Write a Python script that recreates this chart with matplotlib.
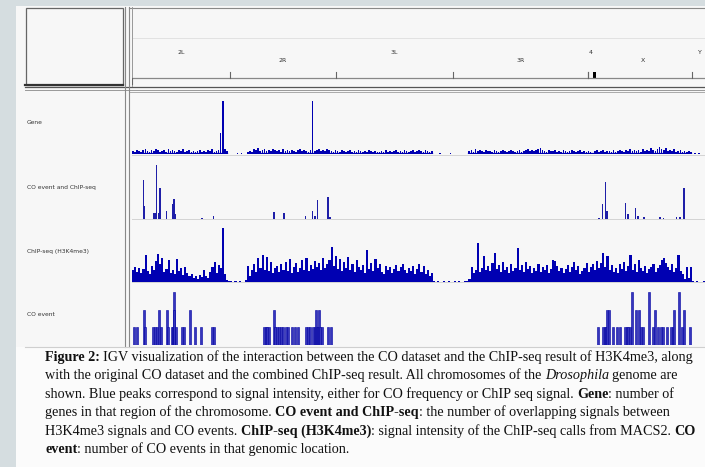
import matplotlib
matplotlib.use("Agg")
import matplotlib.pyplot as plt
from matplotlib.patches import Rectangle

W, H = 705, 467

# Drosophila chromosomes, concatenated as in the IGV "All" view (Mb)
chrom_names = ["2L", "2R", "3L", "3R", "4", "X", "Y"]
chrom_sizes = [23.5, 25.3, 28.1, 32.1, 1.4, 23.5, 3.7]

# genome-wide 0.5 Mb bins
bin_mb = 0.5
gene_counts = [
    3, 2, 4, 3, 2, 4, 5, 3, 2, 4,
    3, 5, 4, 2, 3, 4, 2, 5, 3, 4,
    3, 2, 4, 3, 5, 2, 3, 4, 2, 3,
    2, 3, 4, 2, 3, 2, 4, 3, 5, 2,
    3, 4, 21, 53, 5, 3, 0, 0, 0, 0,
    1, 0, 1, 0, 0, 2, 3, 2, 5, 4,
    6, 3, 4, 5, 3, 4, 3, 5, 4, 3,
    4, 2, 5, 3, 4, 3, 4, 3, 2, 4,
    5, 3, 4, 3, 2, 4, 53, 3, 4, 5,
    3, 4, 3, 5, 4, 3, 2, 4, 3, 2,
    4, 3, 2, 3, 4, 2, 3, 2, 4, 3,
    2, 3, 2, 4, 3, 2, 3, 2, 2, 3,
    2, 4, 2, 3, 2, 3, 4, 2, 3, 2,
    4, 3, 2, 3, 4, 2, 3, 4, 3, 2,
    4, 3, 2, 3, 0, 0, 0, 1, 0, 0,
    0, 0, 1, 0, 0, 0, 0, 0, 0, 0,
    0, 3, 4, 2, 5, 3, 4, 3, 2, 4,
    3, 3, 2, 4, 3, 2, 3, 4, 3, 2,
    3, 4, 3, 2, 3, 4, 2, 3, 4, 5,
    3, 4, 3, 4, 5, 6, 4, 3, 2, 4,
    3, 3, 4, 2, 3, 2, 4, 3, 2, 3,
    4, 3, 2, 3, 4, 2, 3, 2, 3, 2,
    1, 3, 4, 2, 3, 4, 2, 3, 3, 2,
    4, 2, 3, 4, 3, 2, 4, 3, 5, 3,
    4, 3, 4, 2, 5, 3, 4, 3, 6, 4,
    3, 5, 7, 5, 4, 6, 3, 4, 3, 5,
    2, 3, 4, 2, 3, 2, 3, 2, 0, 1,
    0, 1, 0, 0, 0,
]
chip_signal = [
    12, 15, 10, 14, 9, 13, 27, 11, 8, 16,
    12, 21, 28, 18, 24, 10, 13, 22, 9, 12,
    8, 23, 11, 14, 7, 15, 9, 6, 8, 4,
    6, 3, 7, 5, 12, 6, 4, 10, 15, 20,
    9, 17, 14, 54, 8, 2, 1, 1, 0, 1,
    0, 1, 0, 0, 2, 16, 6, 12, 18, 10,
    24, 14, 27, 12, 25, 11, 20, 9, 14, 16,
    10, 18, 12, 20, 11, 23, 9, 15, 19, 10,
    14, 22, 12, 24, 11, 17, 13, 21, 15, 19,
    12, 24, 14, 18, 22, 35, 16, 26, 13, 23,
    11, 20, 14, 25, 12, 18, 10, 22, 15, 12,
    17, 9, 32, 13, 19, 11, 23, 14, 18, 10,
    8, 16, 12, 15, 9, 13, 17, 11, 15, 18,
    12, 9, 14, 11, 16, 8, 13, 18, 10, 16,
    8, 12, 6, 9, 1, 0, 1, 0, 0, 1,
    0, 1, 0, 0, 1, 0, 1, 0, 0, 1,
    1, 3, 15, 9, 12, 39, 10, 14, 26, 12,
    16, 11, 19, 29, 13, 17, 10, 20, 12, 15,
    9, 18, 11, 14, 34, 12, 17, 10, 20, 13,
    16, 9, 14, 11, 18, 10, 15, 12, 17, 9,
    13, 22, 21, 16, 11, 14, 9, 13, 17, 10,
    15, 20, 12, 16, 8, 11, 14, 19, 10, 15,
    18, 12, 21, 14, 19, 29, 15, 26, 12, 17,
    10, 14, 9, 18, 13, 20, 11, 16, 27, 12,
    18, 10, 22, 14, 11, 16, 9, 13, 15, 18,
    10, 14, 17, 22, 24, 19, 15, 12, 18, 10,
    14, 27, 11, 8, 3, 15, 4, 15, 1, 0,
    1, 0, 0, 1, 0,
]

# CO event and ChIP-seq overlap (genome position Mb, signal)
overlap_pos = [2.8, 3.0, 5.1, 5.5, 5.9, 6.3, 6.7, 8.3, 9.7, 10.05, 10.3,
               16.7, 19.45, 34.0, 36.4, 41.5, 43.2, 43.8, 44.4, 46.95, 47.4,
               111.7, 112.6, 113.3, 113.6, 118.1, 118.7, 120.4, 121.1, 122.5,
               126.3, 127.1, 130.3, 131.1, 132.0]
overlap_val = [39, 13, 6, 6, 54, 6, 31, 8, 15, 20, 5,
               1, 3, 7, 6, 3, 8, 3, 19, 22, 2,
               1, 15, 37, 8, 16, 5, 11, 3, 2,
               2, 1, 2, 2, 31]

# CO events (genome position Mb, count)
co_pos = [0.55, 1.12, 2.87, 3.11, 5.1, 5.5, 5.9, 6.53, 6.87, 8.3, 8.68,
          9.5, 9.74, 9.98, 10.12, 10.45, 12.03, 12.51, 13.87, 15.07, 16.5,
          19.14, 19.6, 31.65, 31.98, 32.36, 32.77, 33.97, 34.2, 34.6, 35.16,
          35.64, 36.19, 36.77, 37.39, 38.2, 39.0, 39.78, 41.55, 42.17, 42.65,
          43.37, 43.77, 43.94, 44.18, 44.57, 44.8, 44.97, 45.38, 46.96, 47.6,
          111.54, 112.74, 113.07, 113.38, 113.69, 114.03, 115.13, 115.94,
          116.73, 117.93, 118.33, 118.72, 119.12, 119.67, 120.49, 121.2,
          121.68, 122.31, 123.74, 124.7, 125.1, 125.9, 126.47, 127.09, 127.9,
          128.86, 129.34, 129.65, 130.77, 131.5, 132.04, 133.47]
co_count = [1, 1, 2, 1, 1, 1, 1, 2, 1, 2, 1,
            1, 1, 3, 2, 1, 1, 1, 2, 1, 1,
            1, 1, 1, 1, 1, 1, 2, 1, 1, 1,
            1, 1, 1, 1, 1, 1, 1, 1, 1, 1,
            1, 1, 2, 1, 1, 2, 1, 1, 1, 1,
            1, 1, 1, 1, 2, 2, 1, 1,
            1, 1, 1, 1, 1, 3, 2, 2,
            1, 1, 3, 1, 2, 1, 1, 1, 1,
            1, 1, 2, 3, 1, 2, 1]

track_names = ["Gene", "CO event and ChIP-seq", "ChIP-seq (H3K4me3)", "CO event"]

caption = [
    [("Figure 2:", "bold", "normal"),
     (" IGV visualization of the interaction between the CO dataset and the ChIP-seq result of H3K4me3, along", "normal", "normal")],
    [("with the original CO dataset and the combined ChIP-seq result. All chromosomes of the ", "normal", "normal"),
     ("Drosophila", "normal", "italic"), (" genome are", "normal", "normal")],
    [("shown. Blue peaks correspond to signal intensity, either for CO frequency or ChIP seq signal. ", "normal", "normal"),
     ("Gene", "bold", "normal"), (": number of", "normal", "normal")],
    [("genes in that region of the chromosome. ", "normal", "normal"),
     ("CO event and ChIP-seq", "bold", "normal"),
     (": the number of overlapping signals between", "normal", "normal")],
    [("H3K4me3 signals and CO events. ", "normal", "normal"),
     ("ChIP-seq (H3K4me3)", "bold", "normal"),
     (": signal intensity of the ChIP-seq calls from MACS2. ", "normal", "normal"),
     ("CO", "bold", "normal")],
    [("event", "bold", "normal"), (": number of CO events in that genomic location.", "normal", "normal")],
]

BLUE = "#0000b2"
X0_PX, X1_PX = 132, 705
PX_PER_MB = 4.18
xmax = (X1_PX - X0_PX) / PX_PER_MB

fig = plt.figure(figsize=(W / 100, H / 100), dpi=100)
fig.patch.set_facecolor("#fbfbfb")


def px_axes(x0, y0, x1, y1, z=2):
    ax = fig.add_axes([x0 / W, 1 - y1 / H, (x1 - x0) / W, (y1 - y0) / H], zorder=z)
    ax.patch.set_alpha(0)
    ax.set_axis_off()
    return ax


# overlay in pixel coordinates for the IGV frame
ov = px_axes(0, 0, W, H, z=1)
ov.set_xlim(0, W)
ov.set_ylim(H, 0)
ov.add_patch(Rectangle((0, 0), 16, H, color="#d5dde0", lw=0))
ov.add_patch(Rectangle((0, 0), W, 6, color="#d5dde0", lw=0))
ov.add_patch(Rectangle((16, 6), W - 16, 341, color="#f7f7f7", lw=0))
ov.add_patch(Rectangle((25.5, 7.5), 97, 77, fill=False, ec="#666666", lw=0.9))
ov.plot([25, 123], [84.5, 84.5], color="#333333", lw=1.6)
ov.plot([25, W], [86.5, 86.5], color="#555555", lw=0.9)
ov.plot([25, W], [89.5, 89.5], color="#999999", lw=0.7)
ov.plot([129, W], [91.5, 91.5], color="#aaaaaa", lw=0.7)
ov.plot([129, W], [7.5, 7.5], color="#888888", lw=0.8)
ov.plot([132, W], [37.5, 37.5], color="#e2e2e2", lw=0.7)
for xv in [124.5, 128.5]:
    ov.plot([xv, xv], [7, 347], color="#888888", lw=0.8)
ov.plot([131.5, 131.5], [7, 86], color="#999999", lw=0.7)
for yv in [154.5, 219.0, 282.0]:
    ov.plot([132, W], [yv, yv], color="#d3d3d3", lw=0.7)
ov.plot([25, W], [346.5, 346.5], color="#cfcfcf", lw=0.8)

for name, yc in zip(track_names, [123, 187, 251, 314]):
    ov.text(27, yc, name, fontsize=4.3, color="#333333", va="center", ha="left",
            family="DejaVu Sans")

# header ruler in genome coordinates
hdr = px_axes(X0_PX, 7, X1_PX, 86)
hdr.set_xlim(0, xmax)
hdr.set_ylim(86, 7)
starts = []
pos = 0.0
for s in chrom_sizes:
    starts.append(pos)
    pos += s
hdr.plot([0, xmax], [78, 78], color="#888888", lw=0.9)
hdr.plot([0.05, 0.05], [78, 84], color="#666666", lw=0.8)
for i, (name, st, s) in enumerate(zip(chrom_names, starts, chrom_sizes)):
    yl = 53 if i % 2 == 0 else 60
    hdr.text(st + s / 2, yl, name, fontsize=4.5, color="#333333", ha="center",
             va="center", family="DejaVu Sans")
    end = st + s
    if name == "4":
        hdr.add_patch(Rectangle((end - 0.1, 71.5), 0.75, 6.5, color="black", lw=0))
    elif end < xmax:
        hdr.plot([end, end], [72, 78], color="#666666", lw=0.8)
hdr.plot([starts[4], starts[4]], [72, 78], color="#666666", lw=0.8)

bins = [i * bin_mb for i in range(len(gene_counts))]

ax_gene = px_axes(X0_PX, 92, X1_PX, 153.5)
ax_gene.set_xlim(0, xmax)
ax_gene.set_ylim(0, 61.5)
ax_gene.bar(bins, gene_counts, width=bin_mb * 0.8, align="edge", color=BLUE, lw=0)
ax_gene.plot([0, 22.8], [0.4, 0.4], color=BLUE, lw=0.9)
ax_gene.plot([27.7, 71.8], [0.4, 0.4], color=BLUE, lw=0.9)
ax_gene.plot([80.5, 133.7], [0.4, 0.4], color=BLUE, lw=0.9)

ax_ov = px_axes(X0_PX, 155, X1_PX, 218.5)
ax_ov.set_xlim(0, xmax)
ax_ov.set_ylim(0, 63.5)
ax_ov.bar(overlap_pos, overlap_val, width=0.36, color="#1f1fa8", lw=0)

ax_chip = px_axes(X0_PX, 220, X1_PX, 281.5)
ax_chip.set_xlim(0, xmax)
ax_chip.set_ylim(0, 61.5)
ax_chip.bar(bins, chip_signal, width=bin_mb, align="edge", color=BLUE, lw=0)

ax_co = px_axes(X0_PX, 284, X1_PX, 345)
ax_co.set_xlim(0, xmax)
ax_co.set_ylim(0, 3.47)
ax_co.bar(co_pos, co_count, width=0.45, color="#3535bd", ec="#0000a0", lw=0.4)

# caption with mixed weights
renderer = fig.canvas.get_renderer()
cap_font = "Liberation Serif"
cap_size = 10.2


def text_width(s, weight="normal", style="normal"):
    t = fig.text(0, 0, s, fontsize=cap_size, family=cap_font, weight=weight, style=style)
    w = t.get_window_extent(renderer).width
    t.remove()
    return w


space_w = text_width("a a") - text_width("aa")

for k, parts in enumerate(caption):
    y = 361 + k * 18.4
    x = 45
    for txt, weight, style in parts:
        if txt.startswith(" "):
            x += space_w
        t = fig.text(x / W, 1 - y / H, txt.strip(), fontsize=cap_size, family=cap_font,
                     weight=weight, style=style, color="#111111", va="baseline")
        x += t.get_window_extent(renderer).width
        if txt.endswith(" "):
            x += space_w

fig.savefig("out.png", dpi=100, facecolor=fig.get_facecolor())
